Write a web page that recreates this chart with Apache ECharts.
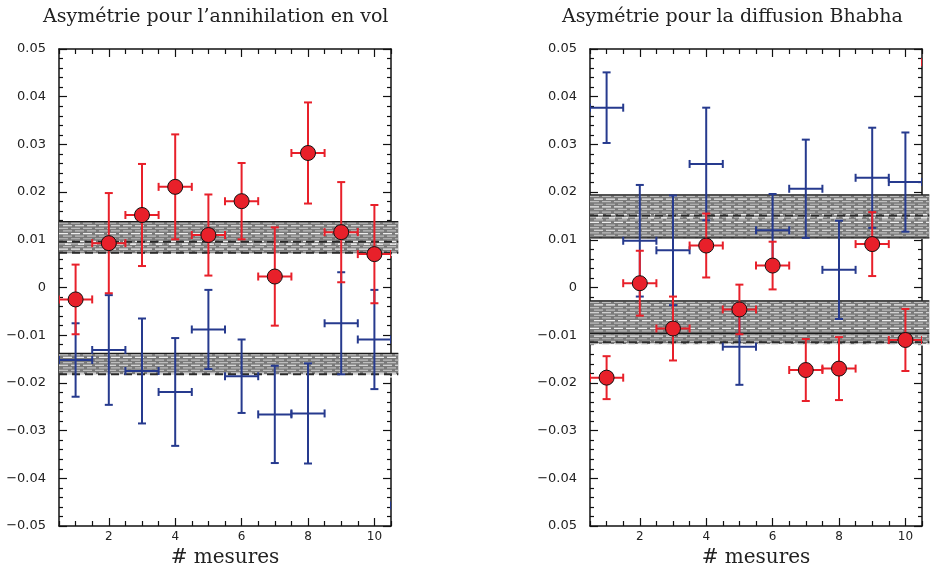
<!DOCTYPE html>
<html>
<head>
<meta charset="utf-8">
<script src="https://cdn.jsdelivr.net/npm/echarts@6/dist/echarts.min.js"></script>
<style>
  html, body { margin: 0; padding: 0; background: #fff; }
  #chart { width: 934px; height: 572px; }
</style>
</head>
<body>
<div id="chart"></div>
<script>
// ---- measurements (bin number, asymmetry, error) ----
const measures = [1, 2, 3, 4, 5, 6, 7, 8, 9, 10, 11];

// annihilation en vol
const annRed     = [-0.0025, 0.0093, 0.0152, 0.0211, 0.0110, 0.0181, 0.0023, 0.0282, 0.0116, 0.0070];
const annRedErr  = [ 0.0073, 0.0105, 0.0107, 0.0110, 0.0085, 0.0080, 0.0103, 0.0106, 0.0105, 0.0103];
const annBlue    = [-0.0152, -0.0131, -0.0175, -0.0219, -0.0088, -0.0186, -0.0266, -0.0264, -0.0075, -0.0109, -0.0457];
const annBlueErr = [ 0.0077,  0.0115,  0.0110,  0.0113,  0.0083,  0.0077,  0.0102,  0.0105,  0.0107,  0.0104,  0.0100];

// diffusion Bhabha
const bhaRed     = [-0.0189, 0.0009, -0.0086, 0.0088, -0.0046, 0.0046, -0.0173, -0.0170, 0.0091, -0.0110, 0.0472];
const bhaRedErr  = [ 0.0045, 0.0068,  0.0067, 0.0067,  0.0052, 0.0050,  0.0065,  0.0066, 0.0067,  0.0065, 0.0065];
const bhaBlue    = [ 0.0377, 0.0098, 0.0078, 0.0259, -0.0124, 0.0120, 0.0207, 0.0037, 0.0230, 0.0221];
const bhaBlueErr = [ 0.0074, 0.0117, 0.0115, 0.0118,  0.0080, 0.0076, 0.0103, 0.0103, 0.0105, 0.0104];

const binHalfWidth = 0.5;

// mean asymmetry bands: [low, high], with their edge / central lines
const annRedBand        = [0.0072, 0.0138];
const annRedBandSolid   = [0.0138];
const annRedBandDashed  = [0.0096, 0.0073];
const annBlueBand       = [-0.0182, -0.0138];
const annBlueBandSolid  = [-0.0138];
const annBlueBandDashed = [-0.0182];
const bhaBlueBand       = [0.0103, 0.0194];
const bhaBlueBandSolid  = [0.0194, 0.0104];
const bhaBlueBandDashed = [0.0151];
const bhaRedBand        = [-0.0119, -0.0028];
const bhaRedBandSolid   = [-0.0028, -0.0096];
const bhaRedBandDashed  = [-0.0115];

// axis ticks and labels
const xMajorTicks = [2, 4, 6, 8, 10];
const xMinorTicks = [0.5, 1, 1.5, 2.5, 3, 3.5, 4.5, 5, 5.5, 6.5, 7, 7.5, 8.5, 9, 9.5, 10.5];
const yTicksLeft  = ['\u22120.05', '\u22120.04', '\u22120.03', '\u22120.02', '\u22120.01', '0', '0.01', '0.02', '0.03', '0.04', '0.05'];
const yTicksRight = ['0.05', '\u22120.04', '\u22120.03', '\u22120.02', '\u22120.01', '0', '0.01', '0.02', '0.03', '0.04', '0.05'];

const titles = ['Asym\u00e9trie pour l\u2019annihilation en vol', 'Asym\u00e9trie pour la diffusion Bhabha'];
const xName = '# mesures';

const RED = '#e8202a';
const BLUE = '#263a8e';
const SERIF = '"DejaVu Serif", "Liberation Serif", serif';
const SANS = '"DejaVu Sans", "Liberation Sans", sans-serif';

const grids = [
  { left: 59, top: 49, width: 332, height: 477, outerBoundsMode: 'none', containLabel: false },
  { left: 590, top: 49, width: 332, height: 477, outerBoundsMode: 'none', containLabel: false }
];

function xAxes(gi) {
  const base = { type: 'value', gridIndex: gi, min: 0.5, max: 10.5, splitLine: { show: false } };
  const line = { show: true, onZero: false, lineStyle: { color: '#111', width: 1.5 } };
  const noLine = { show: false, onZero: false };
  return [
    Object.assign({}, base, {
      position: 'bottom', axisLine: line,
      axisTick: { show: true, inside: true, length: 8, customValues: xMajorTicks, lineStyle: { color: '#111', width: 1.2 } },
      axisLabel: { show: true, customValues: xMajorTicks, margin: 5, fontFamily: SANS, fontSize: 12, color: '#222' },
      name: xName, nameLocation: 'middle', nameGap: 19,
      nameTextStyle: { fontFamily: SERIF, fontSize: 20, color: '#222' }
    }),
    Object.assign({}, base, {
      position: 'bottom', axisLine: noLine,
      axisTick: { show: true, inside: true, length: 5, customValues: xMinorTicks, lineStyle: { color: '#111', width: 1.2 } },
      axisLabel: { show: false }
    }),
    Object.assign({}, base, {
      position: 'top', axisLine: line,
      axisTick: { show: true, inside: true, length: 8, customValues: xMajorTicks, lineStyle: { color: '#111', width: 1.2 } },
      axisLabel: { show: false }
    }),
    Object.assign({}, base, {
      position: 'top', axisLine: noLine,
      axisTick: { show: true, inside: true, length: 5, customValues: xMinorTicks, lineStyle: { color: '#111', width: 1.2 } },
      axisLabel: { show: false }
    })
  ];
}

function yAxes(gi, labels) {
  const base = {
    type: 'value', gridIndex: gi, min: -0.05, max: 0.05, interval: 0.01,
    splitLine: { show: false },
    axisLine: { show: true, onZero: false, lineStyle: { color: '#111', width: 1.5 } },
    axisTick: { show: true, inside: true, length: 8, lineStyle: { color: '#111', width: 1.2 } },
    minorTick: { show: true, splitNumber: 5, length: 4, lineStyle: { color: '#111', width: 1.2 } }
  };
  return [
    Object.assign({}, base, {
      position: 'left',
      axisLabel: {
        show: true, margin: 13, fontFamily: SANS, fontSize: 13, color: '#222',
        formatter: v => labels[Math.round((v + 0.05) / 0.01)]
      }
    }),
    Object.assign({}, base, { position: 'right', axisLabel: { show: false } })
  ];
}

// striped grey band with its reference lines
function bandSeries(gi, band, solid, dashed) {
  const data = [[band[0], band[1]]];
  return {
    type: 'custom', xAxisIndex: gi * 4, yAxisIndex: gi * 2, clip: false, z: 1, silent: true,
    data: data,
    renderItem: function (params, api) {
      const lo = api.value(0), hi = api.value(1);
      const p0 = api.coord([0.5, hi]);
      const p1 = api.coord([10.72, lo]);
      const children = [{
        type: 'rect',
        shape: { x: p0[0], y: p0[1], width: p1[0] - p0[0], height: p1[1] - p0[1] },
        style: { fill: '#7a7a7a' }
      }];
      let k = 0;
      for (let y = p0[1] + 1.5; y < p1[1]; y += 2.6, k++) {
        children.push({
          type: 'line',
          shape: { x1: p0[0] + (k % 2) * 4, y1: y, x2: p1[0], y2: y },
          style: { stroke: k % 3 === 1 ? '#eeeeee' : '#bdbdbd', lineWidth: 1.2, lineDash: [9, 3] }
        });
      }
      solid.forEach(v => {
        const py = api.coord([0.5, v])[1];
        children.push({ type: 'line', shape: { x1: p0[0], y1: py, x2: p1[0], y2: py },
          style: { stroke: '#1a1a1a', lineWidth: 1.3 } });
      });
      dashed.forEach(v => {
        const py = api.coord([0.5, v])[1];
        children.push({ type: 'line', shape: { x1: p0[0], y1: py, x2: p1[0], y2: py },
          style: { stroke: '#2a2a2a', lineWidth: 2, lineDash: [8, 5] } });
        children.push({ type: 'line', shape: { x1: p0[0] + 6, y1: py + 2.5, x2: p1[0], y2: py + 2.5 },
          style: { stroke: '#ffffff', lineWidth: 1.2, lineDash: [6, 7] } });
      });
      return { type: 'group', children: children };
    }
  };
}

function errorSeries(gi, vals, errs, color, z) {
  const data = vals.map((v, i) => [measures[i], v, errs[i]]);
  return {
    type: 'custom', xAxisIndex: gi * 4, yAxisIndex: gi * 2, clip: true, z: z, silent: true,
    data: data,
    renderItem: function (params, api) {
      const x = api.value(0), y = api.value(1), e = api.value(2);
      const c = api.coord([x, y]);
      const t = api.coord([x, y + e]);
      const b = api.coord([x, y - e]);
      const l = api.coord([x - binHalfWidth, y]);
      const r = api.coord([x + binHalfWidth, y]);
      const cap = 4;
      const st = { stroke: color, lineWidth: 2 };
      const ln = (x1, y1, x2, y2) => ({ type: 'line', shape: { x1, y1, x2, y2 }, style: st });
      return {
        type: 'group',
        children: [
          ln(c[0], t[1], c[0], b[1]),
          ln(l[0], c[1], r[0], c[1]),
          ln(c[0] - cap, t[1], c[0] + cap, t[1]),
          ln(c[0] - cap, b[1], c[0] + cap, b[1]),
          ln(l[0], c[1] - cap, l[0], c[1] + cap),
          ln(r[0], c[1] - cap, r[0], c[1] + cap)
        ]
      };
    }
  };
}

function markerSeries(gi, vals) {
  return {
    type: 'scatter', xAxisIndex: gi * 4, yAxisIndex: gi * 2, z: 5, silent: true, clip: true,
    symbol: 'circle', symbolSize: 15,
    itemStyle: { color: RED, opacity: 1, borderColor: '#111', borderWidth: 1 },
    data: vals.map((v, i) => [measures[i], v])
  };
}

const titleStyle = { fontFamily: SERIF, fontSize: 19, fontWeight: 'normal', color: '#222' };

const option = {
  animation: false,
  backgroundColor: '#fff',
  title: [
    { text: titles[0], left: 38, top: 3, textStyle: titleStyle },
    { text: titles[1], left: 557, top: 3, textStyle: titleStyle }
  ],
  grid: grids,
  xAxis: xAxes(0).concat(xAxes(1)),
  yAxis: yAxes(0, yTicksLeft).concat(yAxes(1, yTicksRight)),
  series: [
    bandSeries(0, annRedBand, annRedBandSolid, annRedBandDashed),
    bandSeries(0, annBlueBand, annBlueBandSolid, annBlueBandDashed),
    errorSeries(0, annBlue, annBlueErr, BLUE, 3),
    errorSeries(0, annRed, annRedErr, RED, 4),
    markerSeries(0, annRed),
    bandSeries(1, bhaBlueBand, bhaBlueBandSolid, bhaBlueBandDashed),
    bandSeries(1, bhaRedBand, bhaRedBandSolid, bhaRedBandDashed),
    errorSeries(1, bhaBlue, bhaBlueErr, BLUE, 3),
    errorSeries(1, bhaRed, bhaRedErr, RED, 4),
    markerSeries(1, bhaRed)
  ]
};

const chart = echarts.init(document.getElementById('chart'), null, { renderer: 'canvas' });
chart.setOption(option);
</script>
</body>
</html>
